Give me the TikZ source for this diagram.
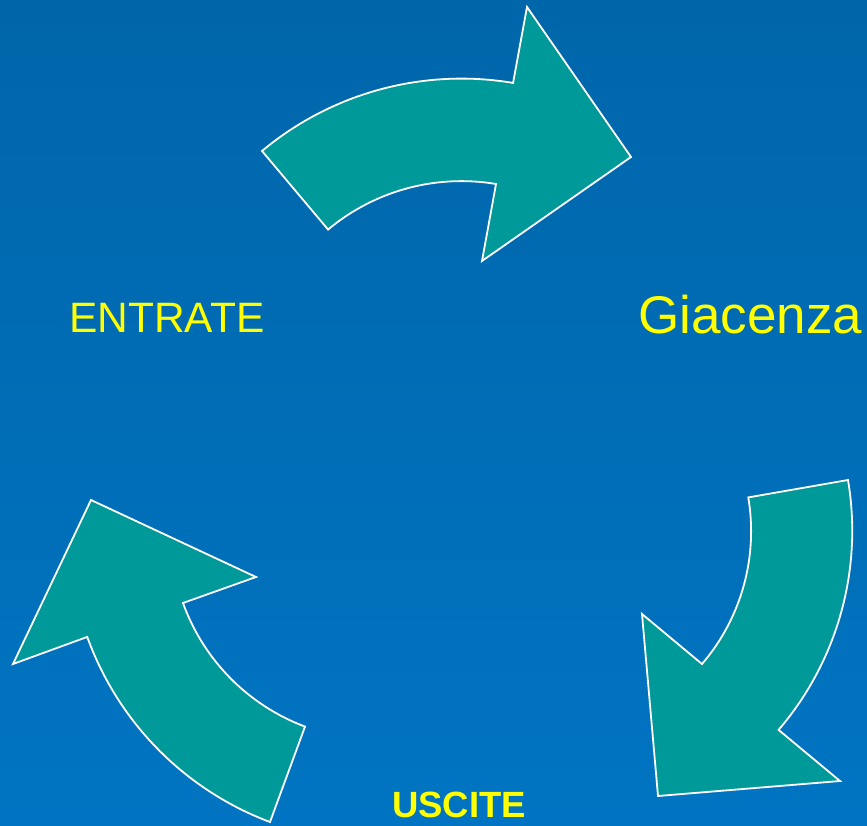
\documentclass[tikz,border=0pt]{standalone}
\usepackage{fontspec}
\setmainfont{Liberation Sans}
\definecolor{bgtop}{RGB}{0,102,170}
\definecolor{bgbot}{RGB}{0,116,194}
\definecolor{arrowteal}{RGB}{0,153,153}
\definecolor{labelyellow}{RGB}{255,255,0}
\tikzset{
    curvedarrow/.style={fill=arrowteal, draw=white, line width=1.8pt, line join=miter},
    stocklabel/.style={text=labelyellow, inner sep=0pt, anchor=base west}
}

\begin{document}
\begin{tikzpicture}
  [
    x = 1pt,
    y = -1pt,
  ]
  % background
  \shade [top color=bgtop, bottom color=bgbot] (0,0) rectangle (867,825);
  \useasboundingbox (0,0) rectangle (867,825);

  % top arrow
  \draw [curvedarrow] (262,151) arc [start angle=-129.9, end angle=-80.45, radius=311]
    -- (527,7) -- (631,157) -- (482,261) -- (496,184)
    arc [start angle=-80.45, end angle=-129.9, radius=208] -- cycle;
  % right arrow
  \draw [curvedarrow] (848,480) arc [start angle=-9.55, end angle=40.6, radius=306]
    -- (840,781) -- (658,796) -- (642,614) -- (702,664)
    arc [start angle=40.6, end angle=-9.55, radius=204] -- cycle;
  % left arrow
  \draw [curvedarrow] (270,822) arc [start angle=110.56, end angle=160.17, radius=310]
    -- (13,664) -- (91,500) -- (256,577) -- (183,603)
    arc [start angle=160.17, end angle=110.56, radius=207] -- cycle;

  \node [stocklabel, font=\fontsize{42.5}{42.5}\selectfont] (entrate) at (69,332) {ENTRATE};
  \node [stocklabel, font=\fontsize{53}{53}\selectfont] (giacenza) at (638,333) {Giacenza};
  \node [stocklabel, font=\fontsize{36.5}{36.5}\selectfont\bfseries] (uscite) at (392,817) {USCITE};
\end{tikzpicture}
\end{document}
